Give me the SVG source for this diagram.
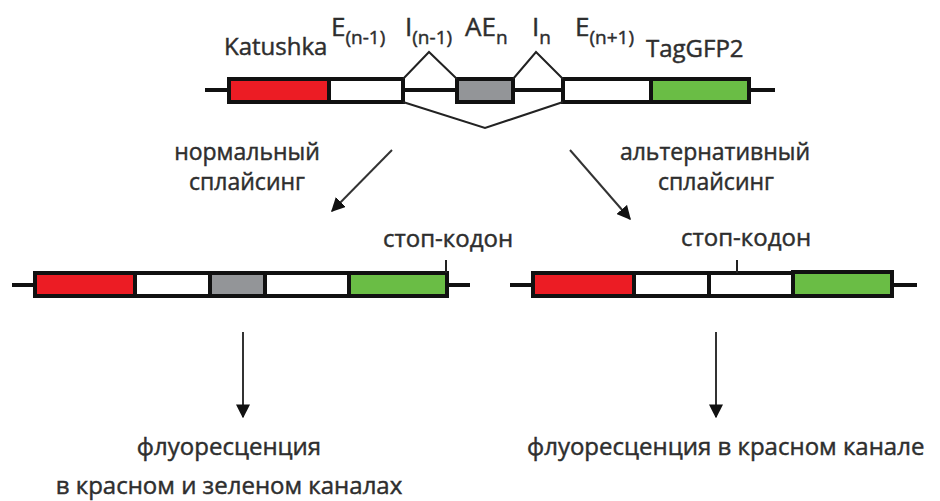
<svg xmlns="http://www.w3.org/2000/svg" width="940" height="501" viewBox="0 0 940 501">
<defs>
<style>
.t{font-family:"Open Sans","Noto Sans",sans-serif;fill:#2e2e2e;stroke:#2e2e2e;stroke-width:0.45;font-weight:400;}
.lbl{font-size:24px;}
.two{font-size:23px;}
.big{font-size:26px;}
.sub{font-size:19px;}
.bb{stroke:#111;stroke-width:4;fill:none;}
.box{stroke:#111;stroke-width:4;}
.red{fill:#ec1c24;}
.wht{fill:#fff;}
.gry{fill:#939598;}
.grn{fill:#6abd45;}
.thin{stroke:#222;stroke-width:2;fill:none;}
.arr{stroke:#333;stroke-width:2;fill:none;marker-end:url(#ah);}
</style>
<marker id="ah" viewBox="0 0 10 10" refX="9" refY="5" markerWidth="7" markerHeight="7" markerUnits="strokeWidth" orient="auto">
<path d="M0,0 L10,5 L0,10 z" fill="#111"/>
</marker>
</defs>
<rect width="940" height="501" fill="#fff"/>

<g id="top-gene">
<line class="bb" x1="205" y1="90" x2="775" y2="90"/>
<rect class="box red" x="229" y="79" width="100" height="23"/>
<rect class="box wht" x="329" y="79" width="74" height="23"/>
<rect class="box gry" x="457" y="79" width="56" height="23"/>
<rect class="box wht" x="563" y="79" width="88" height="23"/>
<rect class="box grn" x="651" y="79" width="98" height="23"/>
<polyline class="thin" points="403,79 429,52 457,79"/>
<polyline class="thin" points="513,79 536,52 563,79"/>
<polyline class="thin" points="403,102 485,128 563,102"/>
</g>

<g id="top-labels">
<text class="t lbl" x="224" y="55">Katushka</text>
<text class="t big" x="331" y="36">E<tspan class="sub" dy="8">(n-1)</tspan></text>
<text class="t big" x="405" y="36">I<tspan class="sub" dy="8">(n-1)</tspan></text>
<text class="t big" x="465" y="36">AE<tspan class="sub" dy="8">n</tspan></text>
<text class="t big" x="532" y="36">I<tspan class="sub" dy="8">n</tspan></text>
<text class="t big" x="575" y="36">E<tspan class="sub" dy="8">(n+1)</tspan></text>
<text class="t lbl" x="646" y="57">TagGFP2</text>
</g>

<g id="connectors">
<line class="arr" x1="392" y1="150" x2="332" y2="211"/>
<line class="arr" x1="570" y1="150" x2="630" y2="219"/>
<line class="arr" x1="243" y1="332" x2="243" y2="417"/>
<line class="arr" x1="716" y1="332" x2="716" y2="417"/>
</g>

<g id="splice-labels">
<text class="t two" text-anchor="middle"><tspan x="247" y="160">нормальный</tspan><tspan x="247" y="190">сплайсинг</tspan></text>
<text class="t two" text-anchor="middle"><tspan x="715" y="160">альтернативный</tspan><tspan x="716" y="190">сплайсинг</tspan></text>
</g>

<g id="normal-gene">
<line class="bb" x1="12" y1="285" x2="470" y2="285"/>
<rect class="box red" x="35" y="273" width="100" height="23"/>
<rect class="box wht" x="135" y="273" width="75" height="23"/>
<rect class="box gry" x="210" y="273" width="55" height="23"/>
<rect class="box wht" x="265" y="273" width="84" height="23"/>
<rect class="box grn" x="349" y="273" width="98" height="23"/>
<line class="thin" x1="446" y1="260" x2="446" y2="273"/>
<text class="t lbl" x="383" y="247">стоп-кодон</text>
</g>

<g id="alt-gene">
<line class="bb" x1="510" y1="285" x2="917" y2="285"/>
<rect class="box red" x="533" y="273" width="101" height="23"/>
<rect class="box wht" x="634" y="273" width="75" height="23"/>
<rect class="box wht" x="709" y="273" width="84" height="23"/>
<rect class="box grn" x="793" y="272" width="99" height="24"/>
<line class="thin" x1="737" y1="260" x2="737" y2="273"/>
<text class="t lbl" x="681" y="246">стоп-кодон</text>
</g>

<g id="result-labels">
<text class="t lbl" text-anchor="middle"><tspan x="229" y="455">флуоресценция</tspan><tspan x="229" y="494">в красном и зеленом каналах</tspan></text>
<text class="t lbl" x="527" y="455">флуоресценция в красном канале</text>
</g>
</svg>
